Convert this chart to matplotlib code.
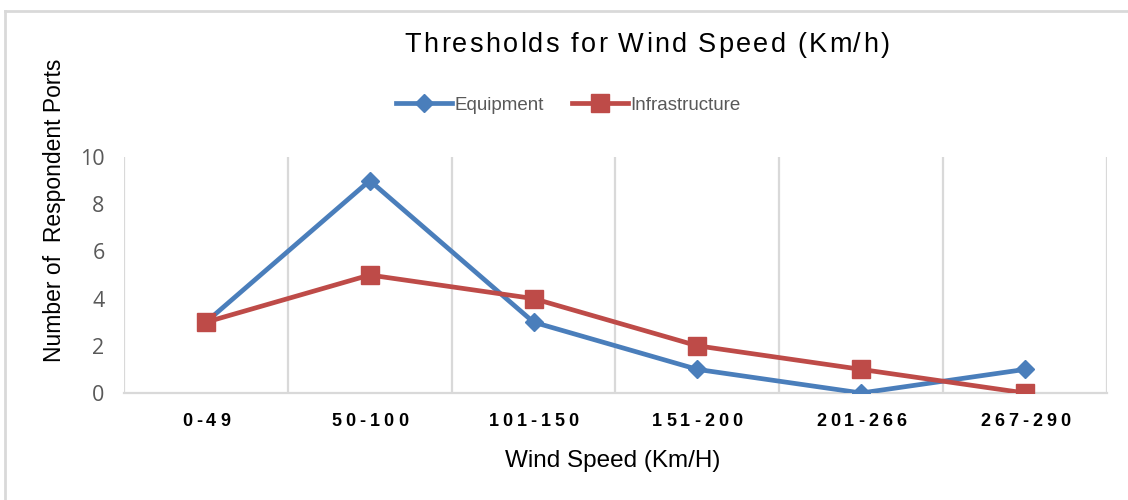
import matplotlib
matplotlib.use('Agg')
import matplotlib.pyplot as plt
from matplotlib.lines import Line2D
from matplotlib.font_manager import FontProperties

categories = ['0-49', '50-100', '101-150', '151-200', '201-266', '267-290']
equipment = [3, 9, 3, 1, 0, 1]
infrastructure = [3, 5, 4, 2, 1, 0]
yticks = [0, 2, 4, 6, 8, 10]

W, H = 1128, 500
BLUE = '#4A7EBB'
RED = '#BE4B48'
GRID = '#D9D9D9'
GREY = '#595959'
NARROW = ['Liberation Sans Narrow', 'Liberation Sans', 'DejaVu Sans']

fig = plt.figure(figsize=(W / 100, H / 100), dpi=100)
ax = fig.add_axes([124 / W, 1 - 393 / H, 983 / W, 236 / H])

x = list(range(len(categories)))
ax.plot(x, equipment, color=BLUE, lw=3.4, marker='D', ms=9, zorder=3,
        label='Equipment', solid_joinstyle='round')
ax.plot(x, infrastructure, color=RED, lw=3.4, marker='s', ms=12.5, zorder=3,
        label='Infrastructure', solid_joinstyle='round')

ax.set_xlim(-0.5, len(categories) - 0.5)
ax.set_ylim(0, 10)
ax.set_yticks(yticks)
ax.tick_params(axis='y', length=0, pad=14, labelsize=15.5, labelcolor=GREY)
ax.set_xticks(x)
ax.set_xticklabels([])
ax.tick_params(axis='x', length=0)
for lbl in ax.get_yticklabels():
    lbl.set_family(['Open Sans', 'DejaVu Sans'])

# category separators instead of a regular grid
for b in range(len(categories) + 1):
    ax.axvline(b - 0.5, color=GRID, lw=1.6, zorder=1)
for s in ['top', 'right', 'left']:
    ax.spines[s].set_visible(False)
ax.spines['bottom'].set_color(GRID)
ax.spines['bottom'].set_linewidth(1.6)

fig.canvas.draw()
renderer = fig.canvas.get_renderer()


def spaced_text(cx, cy, s, fp, spacing=None, width=None, color='black'):
    """Draw s centred at pixel (cx, cy) with extra gap between letters."""
    ws = []
    for ch in s:
        if ch == ' ':
            ws.append(fp.get_size_in_points() * 0.35)
        else:
            w, _, _ = renderer.get_text_width_height_descent(ch, fp, ismath=False)
            ws.append(w)
    if spacing is None:
        spacing = (width - sum(ws)) / (len(s) - 1)
    total = sum(ws) + spacing * (len(s) - 1)
    px = cx - total / 2
    for ch, w in zip(s, ws):
        if ch != ' ':
            fig.text(px / W, 1 - cy / H, ch, fontproperties=fp, color=color,
                     ha='left', va='center')
        px += w + spacing


title_fp = FontProperties(family=NARROW, size=19.5)
spaced_text(647, 45, 'Thresholds for Wind Speed (Km/h)', title_fp, width=485)

tick_fp = FontProperties(family=['Liberation Sans', 'DejaVu Sans'], weight='bold', size=13)
for i, c in enumerate(categories):
    px, _ = ax.transData.transform((i, 0))
    spaced_text(px, 422, c, tick_fp, spacing=4.0)

fig.text(613 / W, 1 - 461 / H, 'Wind Speed (Km/H)', family=NARROW, fontsize=17.5,
         ha='center', va='center')
fig.text(55 / W, 1 - 210 / H, 'Number of  Respondent Ports', family=NARROW,
         fontsize=16.5, rotation=90, ha='center', va='center')

handles = [Line2D([], [], color=BLUE, lw=3.4, marker='D', ms=9),
           Line2D([], [], color=RED, lw=3.4, marker='s', ms=12.5)]
leg = fig.legend(handles, ['Equipment', 'Infrastructure'], loc='center',
                 bbox_to_anchor=(568 / W, 1 - 105 / H), ncol=2, frameon=False,
                 handlelength=3.0, handletextpad=0.1, columnspacing=1.5,
                 prop=FontProperties(family=NARROW, size=13.5))
for t in leg.get_texts():
    t.set_color(GREY)

# light frame on the left and top edges
fig.add_artist(Line2D([5 / W, 5 / W], [0, 1 - 11 / H], transform=fig.transFigure,
                      color=GRID, lw=2))
fig.add_artist(Line2D([5 / W, 1], [1 - 11 / H, 1 - 11 / H], transform=fig.transFigure,
                      color=GRID, lw=2))

fig.savefig('out.png', dpi=100, facecolor='white')
